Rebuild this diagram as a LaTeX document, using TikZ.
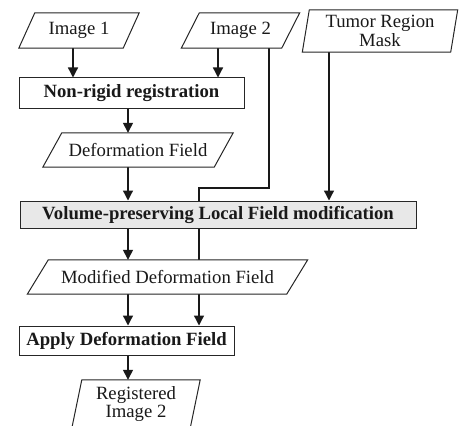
\documentclass[tikz,border=0pt]{standalone}
\usepackage{fontspec}
\setmainfont{Liberation Serif}
\usetikzlibrary{arrows.meta}
\pgfdeclarelayer{bg}
\pgfdeclarelayer{mid}
\pgfsetlayers{bg,mid,main}
\newcommand\parabox[7]{%
  \node[ptext, minimum width=#4pt, minimum height=#5pt] (#1) at (#2,#3) {#7};
  \begin{pgfonlayer}{mid}
  \draw[pline] ([xshift={#6pt/2}]#1.north west) -- ([xshift={#6pt/2}]#1.north east)
     -- ([xshift={-#6pt/2}]#1.south east) -- ([xshift={-#6pt/2}]#1.south west) -- cycle;
  \end{pgfonlayer}}
\begin{document}
\begin{tikzpicture}[x=1pt,y=-1pt,
  every node/.style={font=\fontsize{18.7}{18.5}\selectfont, text=black!90, inner sep=0pt},
  box/.style={draw=black!85, line width=1pt, fill=white, font=\fontsize{18.7}{18.5}\selectfont\bfseries},
  ptext/.style={align=center},
  pline/.style={draw=black!85, line width=1pt, fill=white},
  conn/.style={line width=1.3pt, draw=black!90},
  arr/.style={conn, -{Triangle[width=10pt,length=10pt]}}]
\clip (0,0) rectangle (465,425);
% boxes
\node[box, minimum width=225pt, minimum height=30pt] (nr) at (131.5,93) {Non-rigid registration};
\node[box, fill=gray!18, minimum width=396pt, minimum height=27pt] (vp) at (218,214.5) {Volume-preserving Local Field modification};
\node[box, minimum width=215pt, minimum height=29pt] (ap) at (126.5,340.5) {Apply Deformation Field};
% parallelograms
\parabox{img1}{79}{30.5}{104}{35}{16}{Image 1}
\parabox{img2}{240.5}{30.5}{100}{35}{18}{Image 2}
\parabox{tumor}{380}{31}{148}{42}{7}{Tumor Region\\Mask}
\parabox{df}{138}{150}{171}{34}{19}{Deformation Field}
\parabox{mdf}{167.5}{277}{259}{34}{21}{Modified Deformation Field}
\parabox{reg}{136}{404}{118}{48}{10}{Registered\\Image 2}
% helper coordinates
\coordinate (c1) at (73,0);
\coordinate (c2) at (218,0);
\coordinate (c3) at (269,0);
\coordinate (c4) at (199,0);
\coordinate (c5) at (329,0);
\coordinate (cm) at (128,0);
\coordinate (tj) at (0,188);
\begin{pgfonlayer}{bg}
\draw[arr] (img1.south -| c1) -- (nr.north -| c1);
\draw[arr] (img2.south -| c2) -- (nr.north -| c2);
\draw[arr] (nr.south -| cm) -- (df.north -| cm);
\draw[arr] (df.south -| cm) -- (vp.north -| cm);
\draw[arr] (tumor.south -| c5) -- (vp.north -| c5);
\draw[arr] (vp.south -| cm) -- (mdf.north -| cm);
\draw[arr] (mdf.south -| cm) -- (ap.north -| cm);
\draw[arr] (img2.south -| c3) -- (tj -| c3) -- (tj -| c4) -- (ap.north -| c4);
\draw[arr] (ap.south -| cm) -- (reg.north -| cm);
\end{pgfonlayer}
\end{tikzpicture}
\end{document}
